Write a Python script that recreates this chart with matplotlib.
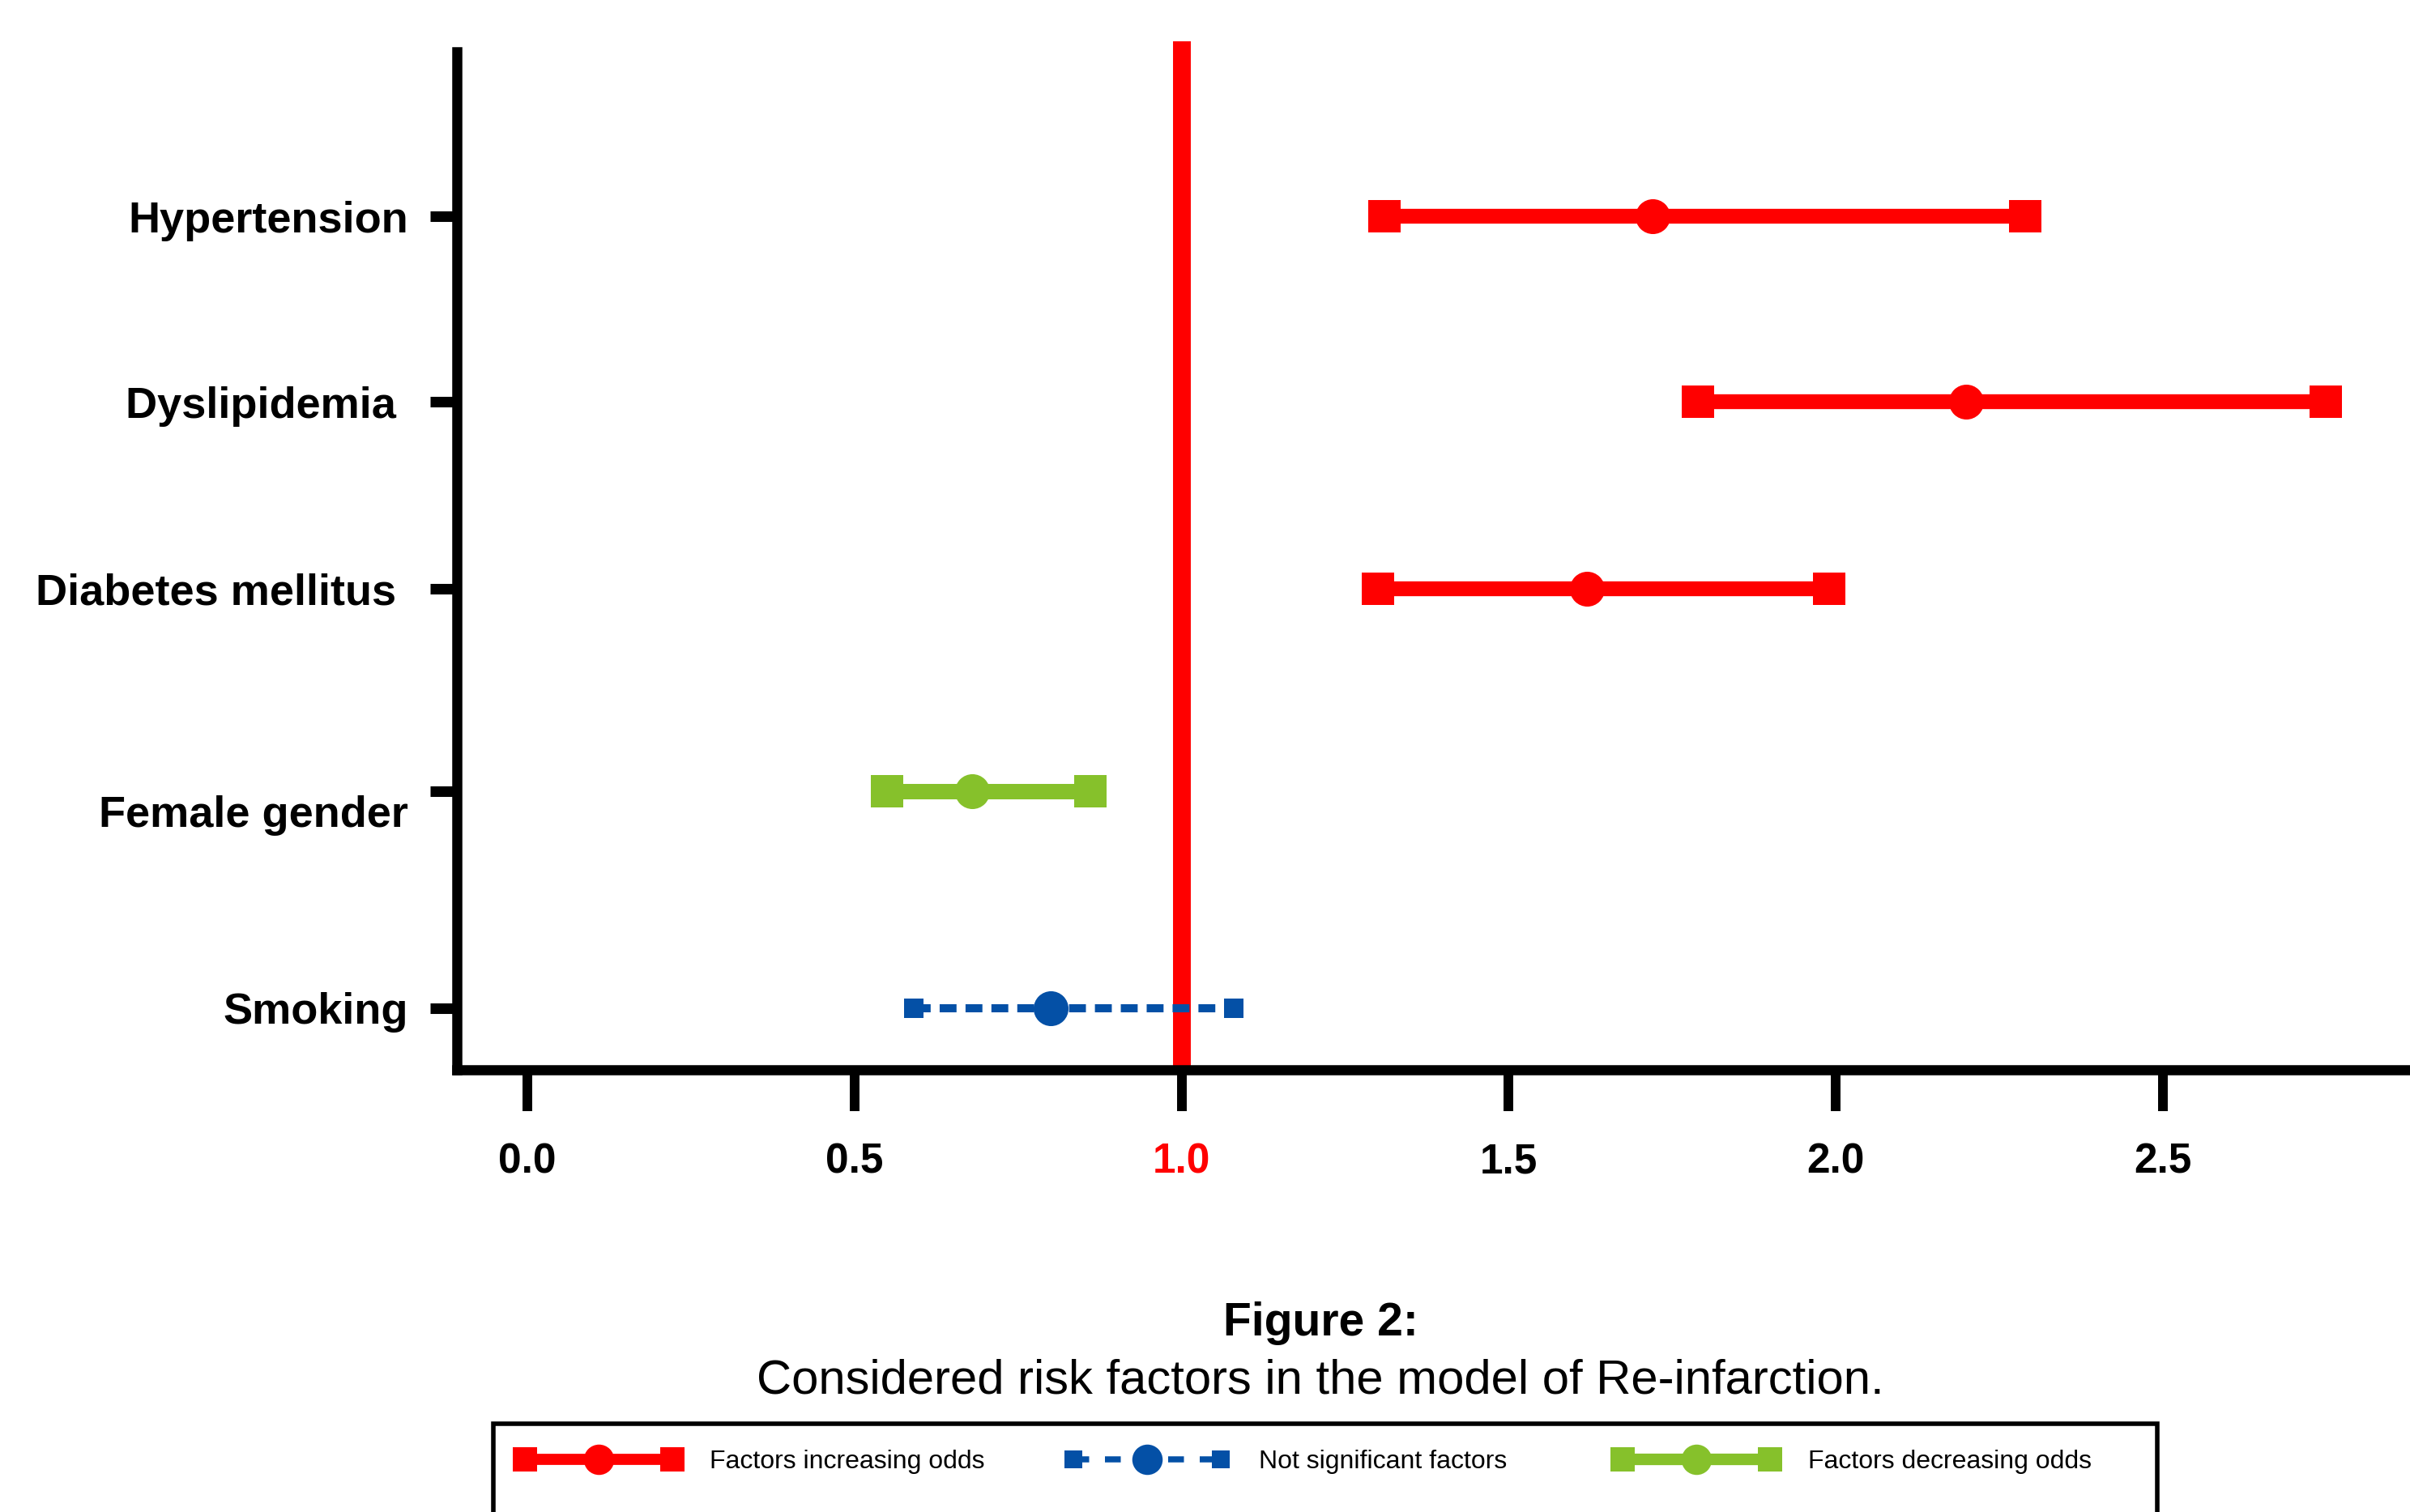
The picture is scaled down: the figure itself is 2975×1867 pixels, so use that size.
import matplotlib
matplotlib.use('Agg')
import matplotlib.pyplot as plt
import matplotlib.transforms as mtransforms
from matplotlib.lines import Line2D
from matplotlib.patches import Rectangle
from matplotlib.legend_handler import HandlerLine2D, HandlerTuple

plt.rcParams['font.family'] = ['Liberation Sans', 'DejaVu Sans']

#-------------------------------------------------------------
# data (odds ratio with 95% CI)
factors_lst  = ['Hypertension', 'Dyslipidemia ', 'Diabetes mellitus ', 'Female gender', 'Smoking']
row_pos_lst  = [5.27, 4.27, 3.26, 2.17, 1.0]
odds_lst     = [1.72, 2.20, 1.62, 0.68, 0.80]
ci_low_lst   = [1.31, 1.79, 1.30, 0.55, 0.59]
ci_high_lst  = [2.29, 2.75, 1.99, 0.86, 1.08]
group_lst    = ['inc', 'inc', 'inc', 'dec', 'ns']
xticks_lst   = [0.0, 0.5, 1.0, 1.5, 2.0, 2.5]

RED   = '#ff0000'
BLUE  = '#0450a6'
GREEN = '#86c12b'

styles = {
	'inc': dict(color=RED,   lw=13.2, ls='-',  sq=29.3, dashes=None,            leg_dashes=None),
	'dec': dict(color=GREEN, lw=13.7, ls='-',  sq=29.3, dashes=None,            leg_dashes=None),
	'ns':  dict(color=BLUE,  lw=7.2,  ls='--', sq=16.6, dashes=(15/7.2, 8/7.2), leg_dashes=(2.6, 2.6)),
}
labels = {
	'inc': 'Factors increasing odds',
	'ns':  'Not significant factors',
	'dec': 'Factors decreasing odds',
}

#-------------------------------------------------------------
fig = plt.figure(figsize=(29.75, 18.67), dpi=100)
ax  = fig.add_axes([0.1896, 0.2922, 0.998 - 0.1896, 0.9657 - 0.2922])

ax.set_xlim(-0.108, 2.871)
ax.set_ylim(0.666, 6.157)

# reference line at OR = 1
ax.axvline(1.0, ymin=0, ymax=1.0103, color=RED, lw=15.8, clip_on=False, zorder=1.5,
	solid_capstyle='butt')

for y, o, lo, hi, g in zip(row_pos_lst, odds_lst, ci_low_lst, ci_high_lst, group_lst):
	st = styles[g]
	ln, = ax.plot([lo, hi], [y, y], color=st['color'], lw=st['lw'], ls=st['ls'], zorder=3,
		solid_capstyle='butt', dash_capstyle='butt')
	if st['dashes']:
		ln.set_dashes(st['dashes'])
	ax.plot([lo, hi], [y, y], ls='none', marker='s', ms=st['sq'], color=st['color'], mew=0, zorder=4)
	ax.plot([o], [y], ls='none', marker='o', ms=31, color=st['color'], mew=0, zorder=5)

# axes styling
for s in ['top', 'right']:
	ax.spines[s].set_visible(False)
for s in ['left', 'bottom']:
	ax.spines[s].set_linewidth(9)
	ax.spines[s].set_capstyle('projecting')

ax.set_yticks(row_pos_lst)
ax.set_yticklabels(factors_lst, fontsize=39, fontweight='bold')
ax.tick_params(axis='y', length=24, width=9.4, pad=19.4)
# 'Female gender' label sits a little below its tick in the original
for lbl in ax.get_yticklabels():
	if lbl.get_text() == 'Female gender':
		lbl.set_transform(lbl.get_transform() +
			mtransforms.ScaledTranslation(0, -0.24, fig.dpi_scale_trans))

ax.set_xticks(xticks_lst)
ax.set_xticklabels(['%.1f' % v for v in xticks_lst], fontsize=37, fontweight='bold')
ax.tick_params(axis='x', length=37, width=8.6, pad=27)
for lbl in ax.get_xticklabels():
	if lbl.get_text() == '1.0':
		lbl.set_color(RED)

# caption
fig.text(0.548, 1 - 1649/1867, 'Figure 2:', ha='center', va='baseline',
	fontsize=41, fontweight='bold')
fig.text(0.548, 1 - 1720/1867, 'Considered risk factors in the model of Re-infarction.',
	ha='center', va='baseline', fontsize=43)

# legend box (runs off the bottom edge)
fig.patches.append(Rectangle((609/2975, -0.05), (2663 - 609)/2975, 0.05 + 1 - 1758/1867,
	transform=fig.transFigure, fill=False, ec='black', lw=4, zorder=1))

leg_x = {'inc': 635/2975, 'ns': 1312/2975, 'dec': 1990/2975}
leg_y = 1 - 1805/1867
for g in ['inc', 'ns', 'dec']:
	st = styles[g]
	p_line = Line2D([], [], color=st['color'], lw=st['lw']*0.75, ls=st['ls'],
		marker='s', ms=st['sq']*0.72 if g != 'ns' else 16, mew=0,
		solid_capstyle='butt', dash_capstyle='butt')
	if st['leg_dashes']:
		p_line.set_dashes(st['leg_dashes'])
	p_dot = Line2D([], [], color=st['color'], ls='none', marker='o', ms=27, mew=0)
	fig.legend([(p_line, p_dot)], [labels[g]],
		handler_map={p_line: HandlerLine2D(numpoints=2, marker_pad=0.4),
			p_dot: HandlerLine2D(numpoints=1),
			tuple: HandlerTuple(ndivide=1, pad=0)},
		loc='center left', bbox_to_anchor=(leg_x[g], leg_y),
		frameon=False, fontsize=23, handlelength=6.5, handletextpad=1.06,
		borderpad=0, borderaxespad=0)

plt.savefig('out.png', dpi=100)
